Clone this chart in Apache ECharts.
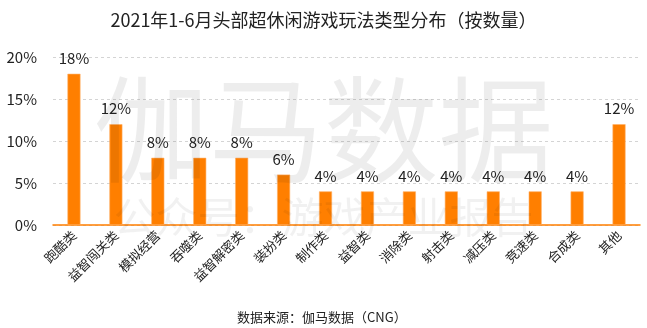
<!DOCTYPE html>
<html>
<head>
<meta charset="utf-8">
<script src="https://cdn.jsdelivr.net/npm/echarts@6/dist/echarts.min.js"></script>
<style>
html,body{margin:0;padding:0;background:#fff;}
#chart{width:647px;height:328px;}
</style>
</head>
<body>
<div id="chart"></div>
<script>
// Game play-type categories and their share (%)
const categories = ['跑酷类','益智闯关类','模拟经营','吞噬类','益智解密类','装扮类','制作类','益智类','消除类','射击类','减压类','竞速类','合成类','其他'];
const shares = [18, 12, 8, 8, 8, 6, 4, 4, 4, 4, 4, 4, 4, 12];
const yTicks = [0, 5, 10, 15, 20];

const FONT = '"Noto Sans CJK SC", "Noto Sans", sans-serif';

const chart = echarts.init(document.getElementById('chart'), null, {renderer: 'canvas'});
chart.setOption({
  animation: false,
  backgroundColor: '#fff',
  textStyle: {fontFamily: FONT},
  title: {
    text: '2021年1-6月头部超休闲游戏玩法类型分布（按数量）',
    left: 'center',
    top: 6,
    textStyle: {fontSize: 18, fontWeight: 'normal', color: '#222', fontFamily: FONT}
  },
  grid: {left: 53, right: 7, top: 57, bottom: 103},
  xAxis: {
    type: 'category',
    data: categories,
    axisLine: {lineStyle: {color: '#FF7F00', width: 1.5}},
    axisTick: {show: false},
    axisLabel: {rotate: 45, fontSize: 13, color: '#222', interval: 0, margin: 8, fontFamily: FONT}
  },
  yAxis: {
    type: 'value',
    min: yTicks[0],
    max: yTicks[yTicks.length - 1],
    interval: 5,
    axisLine: {show: false},
    axisTick: {show: false},
    axisLabel: {formatter: '{value}%', fontSize: 15, color: '#222', margin: 16, fontFamily: FONT},
    splitLine: {lineStyle: {color: '#d4d4d4', type: [3, 3], width: 1}}
  },
  series: [{
    type: 'bar',
    data: shares,
    barWidth: 13,
    itemStyle: {color: '#FF7F00', borderColor: '#FFB066', borderWidth: 0.6},
    label: {show: true, position: 'top', formatter: '{c}%', fontSize: 15, color: '#222', distance: 8, fontFamily: FONT}
  }],
  graphic: [
    {
      type: 'text', left: 'center', top: 72, z: 100, silent: true,
      style: {text: '伽马数据', font: '115px ' + FONT, fill: 'rgba(0,0,0,0.07)', letterSpacing: 2}
    },
    {
      type: 'text', left: 'center', top: 196, z: 100, silent: true,
      style: {text: '公众号：游戏产业报告', font: '42px ' + FONT, fill: 'rgba(0,0,0,0.055)'}
    },
    {
      type: 'text', left: 237, top: 311,
      style: {text: '数据来源：伽马数据（CNG）', font: '13px ' + FONT, fill: '#222'}
    }
  ]
});
</script>
</body>
</html>
